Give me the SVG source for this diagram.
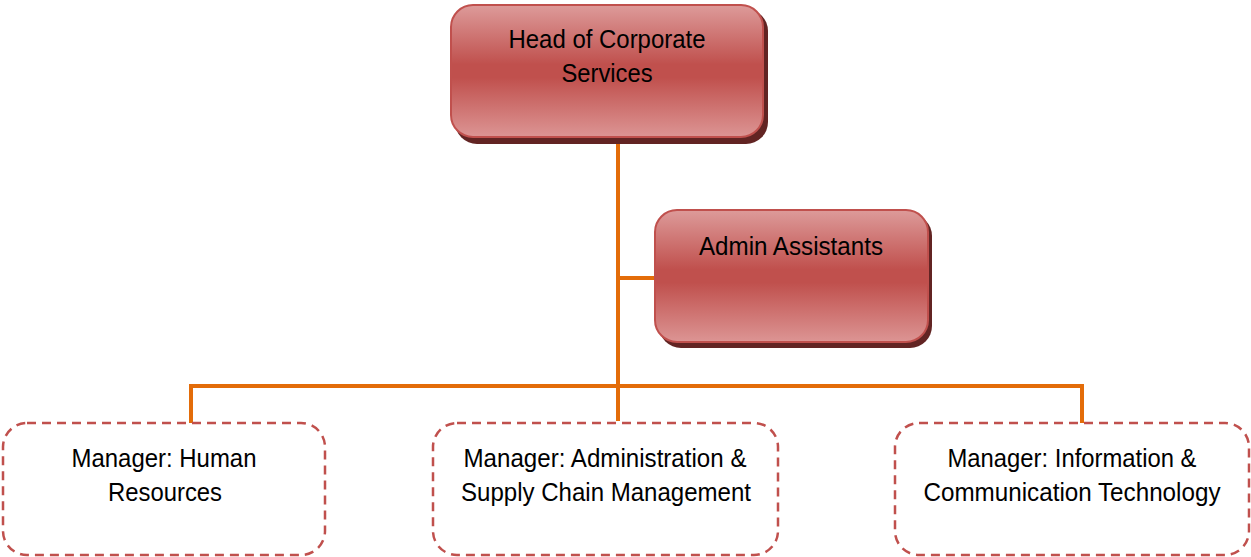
<svg xmlns="http://www.w3.org/2000/svg" width="1251" height="557" viewBox="0 0 1251 557">
<style>
.conn{stroke:#e36c09;stroke-width:4;fill:none;stroke-linecap:square}
.solid{fill:url(#g);stroke:#c0504d;stroke-width:2}
.shadow{fill:#622423}
.dash{fill:#fff;stroke:#c0504d;stroke-width:2.5;stroke-dasharray:9 6}
text{font-family:"Liberation Sans",Arial,sans-serif;font-size:26px;fill:#000;text-anchor:middle}
</style>
<defs>
<linearGradient id="g" x1="0" y1="0" x2="0" y2="1">
<stop offset="0" stop-color="#dd9b9a"/>
<stop offset="0.45" stop-color="#c0504d"/>
<stop offset="0.55" stop-color="#c0504d"/>
<stop offset="1" stop-color="#dc9594"/>
</linearGradient>
</defs>
<rect width="1251" height="557" fill="#fff"/>
<g id="connectors">
<path class="conn" d="M618 137 V419"/>
<path class="conn" d="M618 278 H654"/>
<path class="conn" d="M191 421 V386 H1082 V421"/>
</g>
<g id="head">
<rect class="shadow" x="455" y="9" width="313" height="135" rx="22"/>
<rect class="solid" x="451" y="5" width="312" height="132" rx="22"/>
<text x="607" y="48" textLength="197" lengthAdjust="spacingAndGlyphs">Head of Corporate</text>
<text x="607" y="82" textLength="91" lengthAdjust="spacingAndGlyphs">Services</text>
</g>
<g id="admin">
<rect class="shadow" x="659" y="214" width="273" height="134" rx="22"/>
<rect class="solid" x="655" y="210" width="273" height="132" rx="22"/>
<text x="791" y="255" textLength="184" lengthAdjust="spacingAndGlyphs">Admin Assistants</text>
</g>
<g id="hr">
<rect class="dash" x="3" y="423" width="322" height="132" rx="24"/>
<text x="164" y="467" textLength="185" lengthAdjust="spacingAndGlyphs">Manager: Human</text>
<text x="165" y="501" textLength="114" lengthAdjust="spacingAndGlyphs">Resources</text>
</g>
<g id="asc">
<rect class="dash" x="433" y="423" width="345" height="132" rx="24"/>
<text x="605" y="467" textLength="283" lengthAdjust="spacingAndGlyphs">Manager: Administration &amp;</text>
<text x="606" y="501" textLength="290" lengthAdjust="spacingAndGlyphs">Supply Chain Management</text>
</g>
<g id="ict">
<rect class="dash" x="895" y="423" width="354" height="132" rx="24"/>
<text x="1072" y="467" textLength="249" lengthAdjust="spacingAndGlyphs">Manager: Information &amp;</text>
<text x="1072" y="501" textLength="297" lengthAdjust="spacingAndGlyphs">Communication Technology</text>
</g>
</svg>
